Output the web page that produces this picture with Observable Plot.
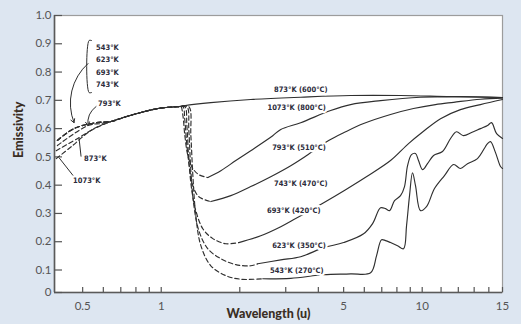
<!DOCTYPE html>
<html><head><meta charset="utf-8">
<script src="https://cdn.jsdelivr.net/npm/d3@7"></script>
<script src="https://cdn.jsdelivr.net/npm/@observablehq/plot@0.6"></script>
<style>
html,body{margin:0;padding:0;background:#dde6f1;}
#chart{width:521px;height:324px;overflow:hidden;}
</style></head><body><div id="chart"></div>
<script>
// ---- axes ----
const xTicks = [0.5,0.6,0.7,0.8,0.9,1,2,3,4,5,6,7,8,9,10,11,12,13,14,15];
const xTickLabels = [0.5,1,5,10,15];
const yTicks = [0,0.1,0.2,0.3,0.4,0.5,0.6,0.7,0.8,0.9,1];

// ---- left dashed fan (wavelength u, emissivity) ----
const fan1073 = [[0.396,0.494],[0.452,0.536],[0.538,0.593]];
const fan873  = [[0.396,0.522],[0.484,0.568],[0.563,0.604]];
const fan793  = [[0.400,0.540],[0.524,0.611],[0.588,0.618]];
const fanLow  = [[0.400,0.558],[0.463,0.600],[0.563,0.621]];
const commonDash = [[0.642,0.625],[0.721,0.640],[0.836,0.657],[0.971,0.671],[1.169,0.678]];

// ---- dashed drops ----
const drop1073 = [[1.19,0.678],[1.211,0.646],[1.232,0.575],[1.265,0.505],[1.322,0.459],[1.394,0.437],[1.509,0.427]];
const drop793  = [[1.211,0.678],[1.232,0.628],[1.254,0.540],[1.288,0.451],[1.322,0.398],[1.394,0.359],[1.549,0.342]];
const drop693  = [[1.232,0.678],[1.254,0.611],[1.276,0.487],[1.310,0.381],[1.357,0.310],[1.443,0.246],[1.577,0.211],[1.768,0.193],[1.983,0.197]];
const drop623  = [[1.254,0.678],[1.276,0.593],[1.299,0.451],[1.334,0.328],[1.394,0.239],[1.509,0.175],[1.692,0.140],[1.931,0.119],[2.203,0.115],[2.344,0.122]];
const drop543  = [[1.276,0.678],[1.299,0.575],[1.322,0.434],[1.357,0.292],[1.419,0.186],[1.549,0.115],[1.768,0.075],[2.018,0.059],[2.449,0.061]];

// ---- solid measured curves ----
const solid873  = [[1.169,0.678],[1.221,0.681],[1.549,0.692],[2.203,0.703],[3.423,0.711],[5.318,0.717],[8.26,0.717],[11.54,0.713],[15,0.710]];
const solid1073 = [[1.509,0.427],[1.692,0.451],[1.931,0.487],[2.203,0.522],[2.675,0.575],[2.871,0.597],[3.423,0.621],[4.459,0.664],[5.318,0.685],[6.925,0.699],[9.851,0.711],[12.13,0.713],[15,0.710]];
const solid793  = [[1.549,0.342],[1.848,0.363],[2.203,0.395],[2.628,0.430],[3.135,0.469],[3.609,0.505],[4.381,0.558],[5.089,0.589],[5.964,0.618],[7.563,0.650],[9.262,0.671],[10.69,0.685],[11.72,0.693],[13.42,0.704],[15,0.708]];
const solid693  = [[1.983,0.197],[2.406,0.221],[2.871,0.253],[3.276,0.282],[4.193,0.338],[5.089,0.384],[6.069,0.428],[7.563,0.487],[8.864,0.547],[10.02,0.588],[10.97,0.635],[12.13,0.667],[13.42,0.685],[15,0.703]];
const solid623  = [[2.344,0.122],[2.871,0.136],[3.423,0.147],[4.193,0.179],[5.0,0.197],[5.964,0.228],[6.455,0.264],[6.925,0.320],[7.237,0.317],[7.496,0.310],[7.834,0.345],[8.26,0.363],[8.555,0.395],[8.787,0.469],[9.101,0.508],[9.427,0.512],[9.679,0.487],[10.02,0.455],[10.27,0.476],[10.59,0.505],[11.08,0.519],[11.54,0.565],[11.89,0.589],[12.32,0.575],[12.83,0.586],[13.42,0.600],[13.91,0.611],[14.19,0.621],[14.56,0.582],[15,0.565]];
const solid543  = [[2.449,0.061],[3.135,0.063],[4.193,0.079],[5.318,0.083],[6.342,0.088],[6.686,0.151],[6.986,0.207],[7.237,0.204],[7.563,0.197],[8.043,0.186],[8.481,0.175],[8.71,0.257],[8.942,0.363],[9.18,0.444],[9.427,0.398],[9.851,0.310],[10.22,0.324],[10.64,0.388],[11.19,0.434],[11.72,0.473],[12.13,0.459],[12.57,0.476],[13.22,0.494],[13.91,0.547],[14.12,0.554],[14.48,0.515],[14.85,0.466],[15,0.459]];

// ---- labels ----
const curveLabels = ["873°K (600°C)","1073°K (800°C)","793°K (510°C)","743°K (470°C)","693°K (420°C)","623°K (350°C)","543°K (270°C)"];
const curveLabelX = [4.34,4.27,4.27,4.34,4.08,4.27,4.19];
const curveLabelY = [0.738,0.674,0.533,0.405,0.310,0.186,0.097];
const groupLabels = ["543°K","623°K","693°K","743°K"];
const groupLabelX = 0.563;
const groupLabelY = [0.888,0.843,0.799,0.755];
const leftLabels = ["793°K","873°K","1073°K"];
const leftLabelX = [0.573,0.506,0.4595];
const leftLabelY = [0.689,0.494,0.416];
const bracket = [[0.541,0.9115],[0.529,0.9115],[0.529,0.7275],[0.541,0.7275]];
const groupArrow = [{x1:0.524,y1:0.830,x2:0.4634,y2:0.621}];
const arrow793 = [{x1:0.5626,y1:0.678,x2:0.524,y2:0.611}];
const pointers = [
  {x1:0.493,y1:0.501,x2:0.484,y2:0.568},
  {x1:0.4595,y1:0.434,x2:0.406,y2:0.497}
];

const curves = [
  {dash: fan873.concat(commonDash), solid: solid873},
  {dash: fan1073.concat(commonDash, drop1073), solid: solid1073},
  {dash: fan793.concat(commonDash, drop793), solid: solid793},
  {dash: fanLow.concat(commonDash, drop693), solid: solid693},
  {dash: fanLow.concat(commonDash, drop623), solid: solid623},
  {dash: fanLow.concat(commonDash, drop543), solid: solid543}
];

const ink = "#2f2f2f";
const labelFont = "DejaVu Sans Condensed";
const X = d => d[0], Y = d => d[1];

const lineMarks = curves.flatMap(c => [
  Plot.line(c.dash, {x: X, y: Y, stroke: ink, strokeWidth: 1.15, strokeDasharray: "4.5,2.8", curve: "catmull-rom"}),
  Plot.line(c.solid, {x: X, y: Y, stroke: ink, strokeWidth: 1.15, curve: "catmull-rom"})
]);

const arrowOpts = {x1: "x1", y1: "y1", x2: "x2", y2: "y2", stroke: ink, strokeWidth: 1, headLength: 6};

const chart = Plot.plot({
  width: 521, height: 324,
  marginLeft: 54, marginRight: 19, marginTop: 15, marginBottom: 32,
  style: {background: "transparent", fontFamily: "Lato, sans-serif", overflow: "visible"},
  x: {type: "log", domain: [0.39, 10, 15], range: [54, 421.7, 502]},
  y: {type: "linear", domain: [0, 0.1, 1], range: [292, 269.5, 15]},
  marks: [
    Plot.frame({fill: "white", stroke: "#9c9c9c", strokeWidth: 1.2}),
    Plot.ruleX([0.39], {stroke: "#5a5a5a", strokeWidth: 1.6}),
    Plot.ruleY([0], {stroke: "#5a5a5a", strokeWidth: 1.6}),
    Plot.axisX({ticks: xTicks, tickSize: -5, tickPadding: 14, tickFormat: d => xTickLabels.includes(d) ? String(d) : "",
      label: null, color: "#555", fontSize: 11.5, strokeWidth: 1.2}),
    Plot.axisY({ticks: yTicks, tickSize: -8, tickPadding: 11, tickFormat: d => d === 0 ? "0" : d.toFixed(1),
      label: null, color: "#555", fontSize: 11.5, strokeWidth: 1.2}),
    ...lineMarks,
    Plot.line(bracket, {x: X, y: Y, stroke: ink, strokeWidth: 1, curve: "catmull-rom"}),
    Plot.arrow(groupArrow, {...arrowOpts, bend: -35}),
    Plot.arrow(arrow793, {...arrowOpts, bend: -30}),
    Plot.link(pointers, {x1: "x1", y1: "y1", x2: "x2", y2: "y2", stroke: ink, strokeWidth: 1}),
    Plot.text(curveLabels, {x: (d,i) => curveLabelX[i], y: (d,i) => curveLabelY[i], text: d => d, textAnchor: "end",
      fontFamily: labelFont, fontWeight: "bold", fontSize: 7.5, fill: "#2b2b3a", stroke: "white", strokeWidth: 4.5}),
    Plot.text(groupLabels, {x: groupLabelX, y: (d,i) => groupLabelY[i], text: d => d, textAnchor: "start",
      fontFamily: labelFont, fontWeight: "bold", fontSize: 7.5, fill: "#2b2b3a"}),
    Plot.text(leftLabels, {x: (d,i) => leftLabelX[i], y: (d,i) => leftLabelY[i], text: d => d, textAnchor: "start",
      fontFamily: labelFont, fontWeight: "bold", fontSize: 7.5, fill: "#2b2b3a"}),
    Plot.text(["Wavelength (u)"], {frameAnchor: "bottom", text: d => d, dx: -10, dy: 25,
      fontFamily: "Lato", fontWeight: 900, fontSize: 12.5, fill: "#3a2e24"}),
    Plot.text(["Emissivity"], {frameAnchor: "left", text: d => d, rotate: -90, dx: -36, dy: 4,
      fontFamily: "Lato", fontWeight: 900, fontSize: 12.5, fill: "#3a2e24"})
  ]
});
document.getElementById("chart").appendChild(chart);
</script></body></html>
